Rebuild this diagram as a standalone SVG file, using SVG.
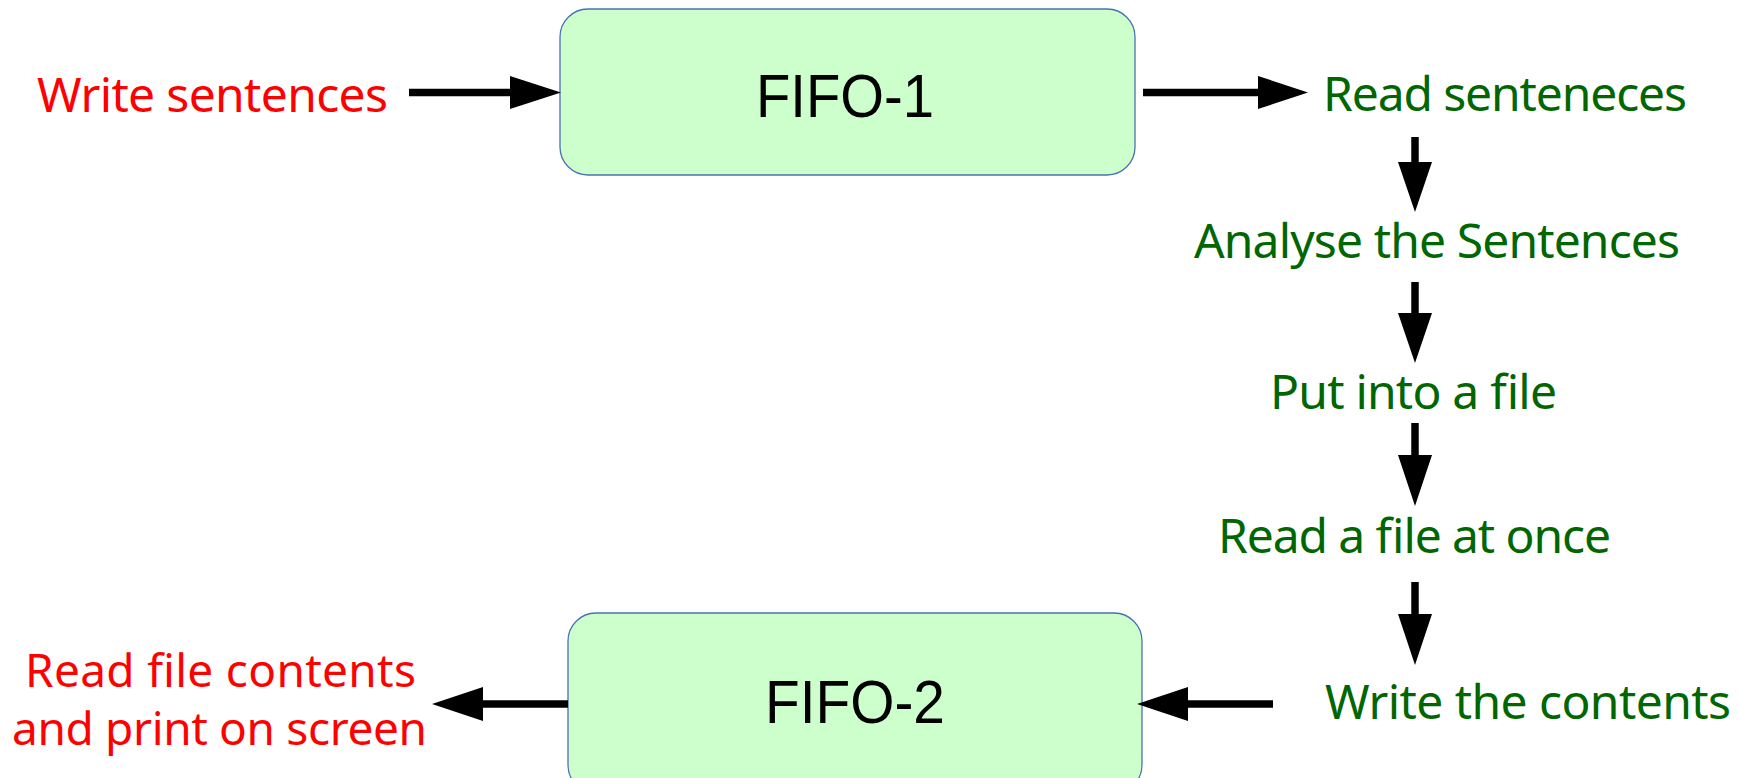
<svg xmlns="http://www.w3.org/2000/svg" width="1752" height="778" viewBox="0 0 1752 778">
<style>
.box{fill:#ccffcc;stroke:#4a72b0;stroke-width:1.3}
.fifo{font-family:"Liberation Sans",Arial,sans-serif;font-size:61px;fill:#000;text-anchor:middle}
.lbl{font-family:"Noto Sans","Open Sans",sans-serif;font-size:48px;text-anchor:middle}
.two{font-size:46px}
.red{fill:#ff0000}
.grn{fill:#006600}
.ln{stroke:#000;stroke-width:7.5;fill:none}
.hd{fill:#000}
</style>
<rect width="1752" height="778" fill="#fff"/>
<g id="write-sentences"><text class="lbl red" x="212.5" y="112" textLength="351">Write sentences</text></g>
<g id="fifo1"><rect class="box" x="560" y="9" width="575" height="166" rx="28" ry="28"/><text class="fifo" x="845" y="117" textLength="178" lengthAdjust="spacingAndGlyphs">FIFO-1</text></g>
<g id="read-sentences"><text class="lbl grn" x="1505" y="111" textLength="364">Read senteneces</text></g>
<g id="analyse"><text class="lbl grn" x="1437" y="258" textLength="486">Analyse the Sentences</text></g>
<g id="put-file"><text class="lbl grn" x="1413.5" y="409" textLength="287">Put into a file</text></g>
<g id="read-file"><text class="lbl grn" x="1414.5" y="553" textLength="393">Read a file at once</text></g>
<g id="write-contents"><text class="lbl grn" x="1528" y="719" textLength="406">Write the contents</text></g>
<g id="fifo2"><rect class="box" x="568" y="613" width="574" height="180" rx="28" ry="28"/><text class="fifo" x="855" y="723" textLength="180" lengthAdjust="spacingAndGlyphs">FIFO-2</text></g>
<g id="read-contents"><text class="lbl two red" x="220.5" y="687" textLength="391">Read file contents</text><text class="lbl two red" x="219.5" y="745" textLength="415">and print on screen</text></g>
<g id="connectors">
<line class="ln" x1="409" y1="92.5" x2="512" y2="92.5"/><polygon class="hd" points="510,76 561,92.5 510,109"/>
<line class="ln" x1="1143" y1="92.5" x2="1260" y2="92.5"/><polygon class="hd" points="1258,76 1308,92.5 1258,109"/>
<line class="ln" x1="1415" y1="137" x2="1415" y2="164"/><polygon class="hd" points="1398,162 1432,162 1415,212"/>
<line class="ln" x1="1415" y1="282" x2="1415" y2="315"/><polygon class="hd" points="1398,313 1432,313 1415,363"/>
<line class="ln" x1="1415" y1="423" x2="1415" y2="457"/><polygon class="hd" points="1398,455 1432,455 1415,506"/>
<line class="ln" x1="1415" y1="582" x2="1415" y2="616"/><polygon class="hd" points="1398,614 1432,614 1415,665"/>
<line class="ln" x1="1273" y1="704" x2="1186" y2="704"/><polygon class="hd" points="1188,687 1137,704 1188,721"/>
<line class="ln" x1="568" y1="704" x2="481" y2="704"/><polygon class="hd" points="483,687 432,704 483,721"/>
</g>
</svg>
